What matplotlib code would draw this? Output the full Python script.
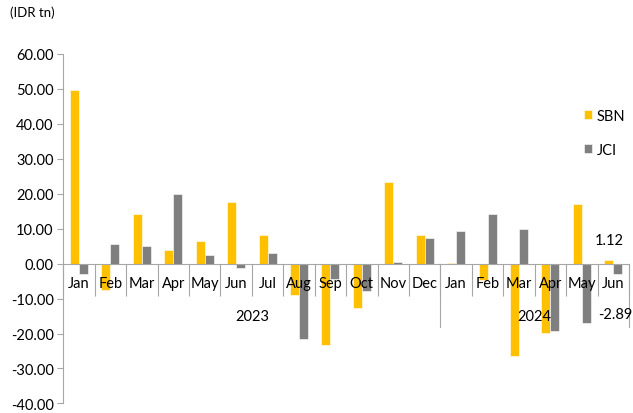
import numpy as np
import matplotlib
matplotlib.use("Agg")
import matplotlib.pyplot as plt

plt.rcParams['font.family'] = ['Lato', 'DejaVu Sans']

months = ['Jan', 'Feb', 'Mar', 'Apr', 'May', 'Jun', 'Jul', 'Aug', 'Sep', 'Oct', 'Nov', 'Dec',
          'Jan', 'Feb', 'Mar', 'Apr', 'May', 'Jun']
years = ['2023', '2024']
year_sizes = [12, 6]
sbn = [49.7, -7.5, 14.1, 4.0, 6.5, 17.5, 8.2, -9.0, -23.3, -12.6, 23.4, 8.1,
       0.2, -4.7, -26.4, -19.8, 17.0, 1.12]
jci = [-3.0, 5.6, 5.0, 19.8, 2.3, -1.4, 3.0, -21.6, -4.4, -7.9, 0.4, 7.4,
       9.2, 14.1, 9.9, -19.2, -16.9, -2.89]

c_sbn = '#FFC000'
c_jci = '#7F7F7F'
axis_col = '#A6A6A6'
fs = 10.5

fig = plt.figure(figsize=(6.33, 4.14), dpi=100)
ax = fig.add_axes([0.1, 0.023, 0.8937, 0.845])

x = np.arange(len(months))
w = 0.287
ax.bar(x - w / 2, sbn, w, color=c_sbn, label='SBN', edgecolor='white', linewidth=0.4)
ax.bar(x + w / 2, jci, w, color=c_jci, label='JCI', edgecolor='white', linewidth=0.4)

ax.set_xlim(-0.5, len(months) - 0.5)
ax.set_ylim(-40, 60)
ax.set_yticks(np.arange(-40, 61, 10))
ax.set_yticklabels([f'{v:.2f}' for v in np.arange(-40, 61, 10)], fontsize=fs)

for s in ['top', 'right']:
    ax.spines[s].set_visible(False)
ax.spines['left'].set_color(axis_col)
ax.spines['bottom'].set_color(axis_col)
ax.spines['bottom'].set_position(('data', 0))
ax.tick_params(axis='y', colors=axis_col, labelcolor='black', length=4, width=0.8, pad=3)

# month boundaries as long ticks, month names as minor labels
ax.set_xticks(np.arange(-0.5, len(months), 1))
ax.set_xticklabels([])
ax.tick_params(axis='x', which='major', length=23, width=0.8, color=axis_col, direction='out')
ax.set_xticks(x, minor=True)
ax.set_xticklabels(months, minor=True, fontsize=fs)
ax.tick_params(axis='x', which='minor', length=0, pad=9)

# year group dividers and labels
start = 0
for yr, n in zip(years, year_sizes):
    end = start + n
    ax.plot([end - 0.5, end - 0.5], [0, -18], color=axis_col, lw=0.8, clip_on=False)
    ax.text((start + end - 1) / 2, -14.9, yr, ha='center', va='center', fontsize=fs)
    start = end

# data labels for the last month
ax.annotate(f'{sbn[-1]:.2f}', (x[-1] - w / 2, 0), xytext=(0, 24), textcoords='offset pixels',
            ha='center', va='center', fontsize=fs)
ax.annotate(f'{jci[-1]:.2f}', (x[-1] + w / 2, 0), xytext=(-3, -50), textcoords='offset pixels',
            ha='center', va='center', fontsize=fs)

fig.text(0.016, 0.97, '(IDR tn)', fontsize=9.5, va='center', ha='left')

fig.legend(loc='center left', bbox_to_anchor=(0.923, 0.677), frameon=False, fontsize=fs,
           handlelength=0.55, handleheight=0.55, handletextpad=0.3, labelspacing=1.4,
           borderaxespad=0, borderpad=0)

fig.savefig('out.png', dpi=100)
